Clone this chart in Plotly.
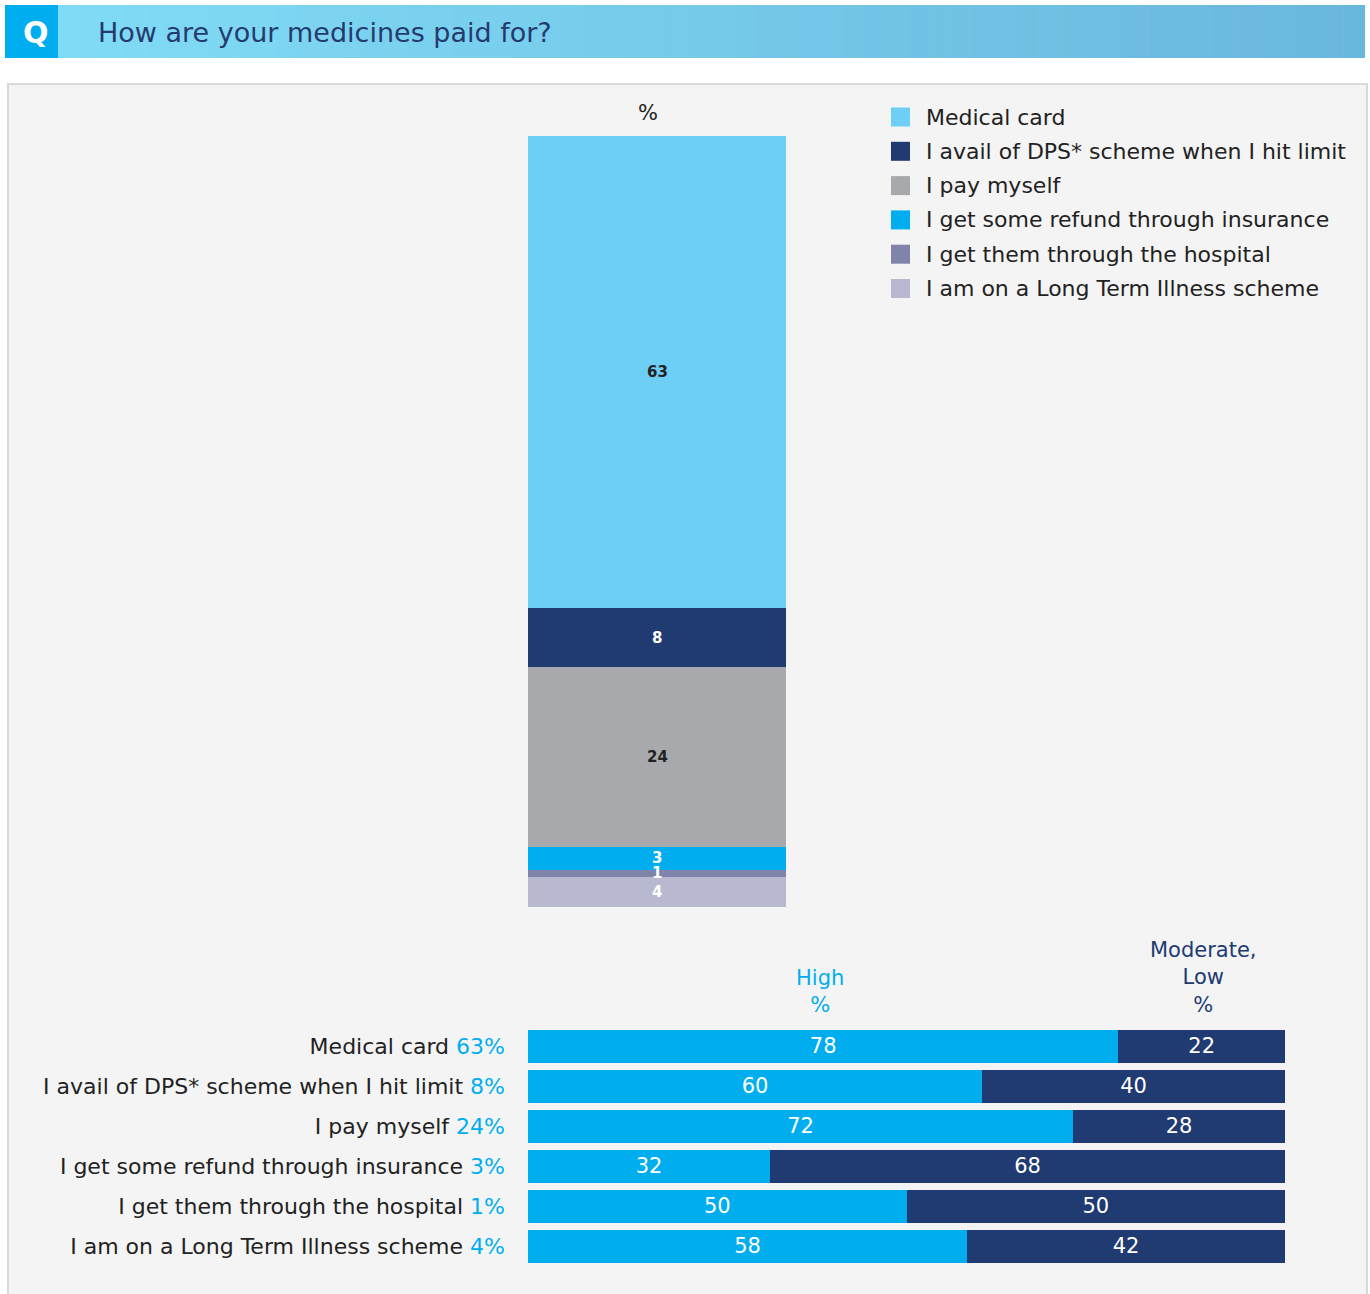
import plotly.graph_objects as go

# ---------------- data ----------------
categories = [
    "Medical card",
    "I avail of DPS* scheme when I hit limit",
    "I pay myself",
    "I get some refund through insurance",
    "I get them through the hospital",
    "I am on a Long Term Illness scheme",
]
share = [63, 8, 24, 3, 1, 4]
high = [78, 60, 72, 32, 50, 58]
moderate_low = [22, 40, 28, 68, 50, 42]

seg_colors = ["#6dcff6", "#203a72", "#a7a9ac", "#00aeef", "#8083aa", "#b8b9d1"]
seg_text_colors = ["#222222", "#ffffff", "#222222", "#ffffff", "#ffffff", "#ffffff"]
title = "How are your medicines paid for?"

W, H = 1370, 1294
FONT = "DejaVu Sans"


def px(x):
    return x / W


def py(y):
    return 1 - y / H


fig = go.Figure()

# ---------- vertical stacked bar (bottom segment = last category) ----------
order = list(reversed(range(len(categories))))
for i in order:
    fig.add_trace(go.Bar(
        x=["%"], y=[share[i]], name=categories[i],
        marker=dict(color=seg_colors[i], line=dict(width=0)),
        width=1, xaxis="x", yaxis="y", showlegend=False, hoverinfo="skip",
    ))

annotations = []
# segment value labels, placed at segment midpoints on the data axes
cum = 0
for i in order:
    mid = cum + share[i] / 2
    cum += share[i]
    annotations.append(dict(xref="x", yref="y", x="%", y=mid, text=f"<b>{share[i]}</b>",
                            showarrow=False, xanchor="center", yanchor="middle",
                            font=dict(family=FONT, size=15, color=seg_text_colors[i])))

# ---------- horizontal 100% bars ----------
fig.add_trace(go.Bar(
    y=categories, x=high, orientation="h", name="High",
    marker=dict(color="#00aeef", line=dict(width=0)),
    text=[str(v) for v in high], textposition="inside", insidetextanchor="middle",
    textangle=0, textfont=dict(family=FONT, size=21, color="white"),
    xaxis="x2", yaxis="y2", showlegend=False, hoverinfo="skip",
))
fig.add_trace(go.Bar(
    y=categories, x=moderate_low, orientation="h", name="Moderate, Low",
    marker=dict(color="#203a72", line=dict(width=0)),
    text=[str(v) for v in moderate_low], textposition="inside", insidetextanchor="middle",
    textangle=0, textfont=dict(family=FONT, size=21, color="white"),
    xaxis="x2", yaxis="y2", showlegend=False, hoverinfo="skip",
))

ticktext = [f"{c} <span style='color:#00aeef'>{s}%</span>" for c, s in zip(categories, share)]

shapes = []

# panel
shapes.append(dict(type="rect", xref="paper", yref="paper",
                   x0=px(8), x1=px(1367), y0=py(1300), y1=py(84),
                   fillcolor="#f4f4f4", line=dict(color="#d9d9d9", width=2), layer="below"))

# header gradient band
c0 = (0x80, 0xdb, 0xf6)
c1 = (0x6a, 0xb7, 0xdc)
n = 60
x_start, x_end = 58, 1365
for k in range(n):
    t = k / (n - 1)
    col = "rgb(%d,%d,%d)" % tuple(round(a + (b - a) * t) for a, b in zip(c0, c1))
    xa = x_start + (x_end - x_start) * k / n
    xb = x_start + (x_end - x_start) * (k + 1) / n + 0.6
    shapes.append(dict(type="rect", xref="paper", yref="paper",
                       x0=px(xa), x1=px(min(xb, x_end)), y0=py(58), y1=py(5),
                       fillcolor=col, line=dict(width=0), layer="below"))
# Q box
shapes.append(dict(type="rect", xref="paper", yref="paper",
                   x0=px(5), x1=px(58), y0=py(58), y1=py(5),
                   fillcolor="#00aeef", line=dict(width=0), layer="below"))
annotations.append(dict(xref="paper", yref="paper", x=px(36), y=py(33), text="<b>Q</b>",
                        showarrow=False, xanchor="center", yanchor="middle",
                        font=dict(family=FONT, size=30, color="white")))
annotations.append(dict(xref="paper", yref="paper", x=px(96), y=py(33), text=title,
                        showarrow=False, xanchor="left", yanchor="middle",
                        font=dict(family=FONT, size=27, color="#253b6e")))

# "%" above stacked bar
annotations.append(dict(xref="paper", yref="paper", x=px(648), y=py(113), text="%",
                        showarrow=False, xanchor="center", yanchor="middle",
                        font=dict(family=FONT, size=21, color="#222222")))

# manual legend
leg_y0 = 117
leg_step = 34.3
for i, (c, col) in enumerate(zip(categories, seg_colors)):
    yc = leg_y0 + i * leg_step
    shapes.append(dict(type="rect", xref="paper", yref="paper",
                       x0=px(891), x1=px(910), y0=py(yc + 9.5), y1=py(yc - 9.5),
                       fillcolor=col, line=dict(width=0)))
    annotations.append(dict(xref="paper", yref="paper", x=px(924), y=py(yc), text=c,
                            showarrow=False, xanchor="left", yanchor="middle",
                            font=dict(family=FONT, size=22, color="#222222")))

# column headers
annotations.append(dict(xref="paper", yref="paper", x=px(820), y=py(1019),
                        text="High<br>%", showarrow=False, xanchor="center", yanchor="bottom",
                        font=dict(family=FONT, size=21, color="#00aeef")))
annotations.append(dict(xref="paper", yref="paper", x=px(1203), y=py(1019),
                        text="Moderate,<br>Low<br>%", showarrow=False, xanchor="center", yanchor="bottom",
                        font=dict(family=FONT, size=21, color="#203a72")))

total = sum(share)
fig.update_layout(
    width=W, height=H,
    margin=dict(l=0, r=0, t=0, b=0),
    paper_bgcolor="white", plot_bgcolor="rgba(0,0,0,0)",
    barmode="stack", bargap=0.175,
    font=dict(family=FONT, size=20, color="#222222"),
    xaxis=dict(domain=[px(528), px(786)], range=[-0.5, 0.5], visible=False, fixedrange=True),
    yaxis=dict(domain=[py(907), py(136)], range=[0, total], visible=False, fixedrange=True),
    xaxis2=dict(domain=[px(528), px(1285)], range=[0, 100], visible=False, anchor="y2"),
    yaxis2=dict(domain=[py(1266), py(1026)], anchor="x2", autorange="reversed",
                tickvals=categories, ticktext=ticktext, showgrid=False, zeroline=False,
                showline=False, ticks="", ticklabelstandoff=22,
                tickfont=dict(family=FONT, size=22, color="#222222")),
    shapes=shapes, annotations=annotations,
)

fig.write_html("out.html", config={"displayModeBar": False},
               post_script="document.body.style.margin='0px';document.body.style.overflow='hidden';")
